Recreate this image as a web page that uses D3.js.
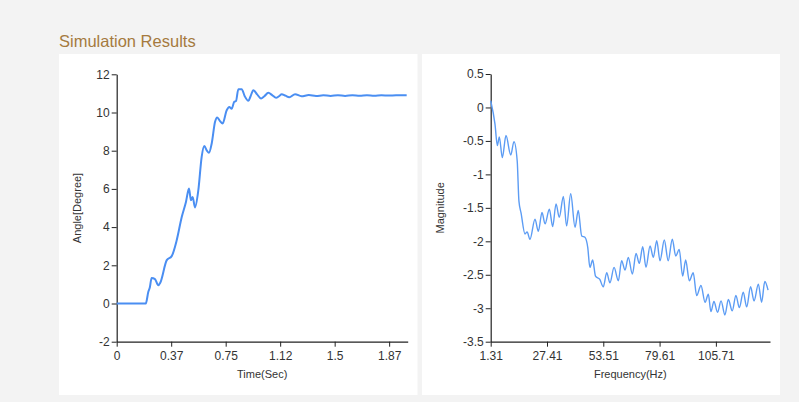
<!DOCTYPE html>
<html>
<head>
<meta charset="utf-8">
<script src="https://cdn.jsdelivr.net/npm/d3@7"></script>
<style>
  html, body { margin: 0; padding: 0; background: #f3f3f3; }
  svg { display: block; }
  .tick text { font-family: "Liberation Sans", Arial, sans-serif; font-size: 12px; fill: #333; }
  .axis path, .axis line { stroke: #222; }
</style>
</head>
<body>
<svg id="chart" width="799" height="402"></svg>
<script>
// Step response: time (s) and angle (degrees)
const timeSec = [0, 0.1, 0.2, 0.217, 0.228, 0.24, 0.263, 0.286, 0.30, 0.344, 0.378, 0.412, 0.447, 0.476,
  0.497, 0.51, 0.522, 0.538, 0.561, 0.584, 0.602, 0.62, 0.634, 0.653, 0.676, 0.691, 0.71, 0.728,
  0.756, 0.774, 0.79, 0.808, 0.82, 0.836, 0.859, 0.88, 0.905, 0.92, 0.939, 0.965, 0.992, 1.015,
  1.042, 1.07, 1.095, 1.115, 1.134, 1.16, 1.186, 1.226, 1.27, 1.32, 1.37, 1.42, 1.47, 1.52, 1.57,
  1.62, 1.67, 1.72, 1.77, 1.82, 1.87, 1.92, 1.993];
const angleDeg = [0, 0, 0, 0.6, 0.85, 1.34, 1.28, 0.96, 1.1, 2.27, 2.48, 3.3, 4.53, 5.32,
  6.02, 5.41, 5.58, 5.03, 5.93, 7.68, 8.24, 8.0, 7.89, 8.38, 9.51, 9.74, 9.55, 9.42,
  10.12, 10.29, 10.2, 10.56, 10.6, 11.22, 11.22, 10.85, 10.61, 10.85, 11.17, 10.95, 10.73, 10.85,
  11.03, 10.9, 10.77, 10.85, 10.96, 10.88, 10.8, 10.96, 10.85, 10.91, 10.86, 10.9, 10.87, 10.9, 10.87,
  10.9, 10.88, 10.9, 10.88, 10.9, 10.89, 10.9, 10.9];
const timeTicks = [0, 0.3745, 0.749, 1.1235, 1.498, 1.8725];
const timeTickLabels = ["0", "0.37", "0.75", "1.12", "1.5", "1.87"];
const angleTicks = [-2, 0, 2, 4, 6, 8, 10, 12];

// Spectrum: frequency (Hz) and magnitude
const freqHz = [1.31, 3.3, 4.4, 5.3, 6.7, 8.4, 10.6, 12.1, 13.6, 14.4, 15.4, 17.2, 18.2, 19.5, 21.85,
  23.4, 25.1, 26.5, 28.5, 30.05, 31.6, 33.1, 35.0, 36.5, 38.4, 40.4, 41.9, 43.5, 45.0, 46.3, 47.3,
  48.6, 49.9, 51.9, 53.5, 55.1, 56.6, 58.5, 60.5, 62.0, 63.6, 65.1, 67.0, 68.7, 70.2, 71.8, 73.3,
  75.2, 76.7, 78.3, 79.8, 81.8, 83.6, 85.5, 87.1, 88.7, 90.3, 91.7, 93.4, 95.2, 96.8, 98.8, 100.7,
  102.2, 103.4, 104.8, 106.5, 108.1, 109.9, 111.5, 113.3, 115.0, 116.6, 118.4, 120.0, 121.8, 123.4,
  125.4, 126.9, 128.4, 129.9];
const magnitude = [0.1, -0.25, -0.57, -0.44, -0.75, -0.42, -0.71, -0.51, -0.8, -1.4, -1.58, -1.89, -1.86, -1.97, -1.67,
  -1.85, -1.57, -1.74, -1.52, -1.78, -1.44, -1.64, -1.33, -1.77, -1.29, -1.79, -1.54, -1.92, -1.94, -2.09, -2.39,
  -2.28, -2.52, -2.57, -2.68, -2.47, -2.62, -2.39, -2.59, -2.29, -2.43, -2.24, -2.49, -2.18, -2.33, -2.08, -2.39,
  -2.07, -2.24, -1.99, -2.29, -1.98, -2.29, -1.97, -2.22, -2.12, -2.52, -2.28, -2.59, -2.47, -2.81, -2.66, -2.91,
  -2.79, -3.05, -2.9, -3.06, -2.89, -3.1, -2.87, -3.04, -2.81, -2.99, -2.76, -2.98, -2.68, -2.89,
  -2.64, -2.91, -2.6, -2.73];
const freqTicks = [1.31, 27.41, 53.51, 79.61, 105.71];
const freqTickLabels = ["1.31", "27.41", "53.51", "79.61", "105.71"];
const magTicks = [-3.5, -3, -2.5, -2, -1.5, -1, -0.5, 0, 0.5];

const svg = d3.select("#chart");
const font = '"Liberation Sans", Arial, sans-serif';

// Section title
svg.append("text")
  .attr("x", 59).attr("y", 46.5)
  .attr("font-family", font).attr("font-size", 16.5)
  .attr("fill", "#a57a3e")
  .text("Simulation Results");

// White card behind each plot
svg.append("rect").attr("x", 59).attr("y", 54).attr("width", 358.5).attr("height", 341).attr("fill", "#fff");
svg.append("rect").attr("x", 422).attr("y", 54).attr("width", 358).attr("height", 341).attr("fill", "#fff");

function panel(opts) {
  const g = svg.append("g");
  const x = d3.scaleLinear().domain(opts.xDomain).range(opts.xRange);
  const y = d3.scaleLinear().domain(opts.yDomain).range(opts.yRange);

  g.append("g").attr("class", "axis")
    .attr("transform", `translate(0,${opts.yRange[0]})`)
    .call(d3.axisBottom(x).tickValues(opts.xTicks)
      .tickFormat((d, i) => opts.xLabels[i])
      .tickSize(5).tickSizeOuter(0).tickPadding(5));

  // plain hyphen-minus for negative labels
  g.append("g").attr("class", "axis")
    .attr("transform", `translate(${opts.xRange[0]},0)`)
    .call(d3.axisLeft(y).tickValues(opts.yTicks)
      .tickFormat(d => String(d))
      .tickSize(5).tickSizeOuter(0).tickPadding(2));

  g.selectAll(".axis path").attr("stroke-width", 1.2);

  const line = d3.line()
    .x((d, i) => x(opts.xs[i]))
    .y(d => y(d))
    .curve(d3.curveMonotoneX);

  g.append("path")
    .datum(opts.ys)
    .attr("fill", "none")
    .attr("stroke", opts.color)
    .attr("stroke-width", opts.width)
    .attr("stroke-linejoin", "round")
    .attr("d", line);

  g.append("text")
    .attr("x", (opts.xRange[0] + opts.xRange[1]) / 2).attr("y", 378)
    .attr("text-anchor", "middle")
    .attr("font-family", font).attr("font-size", 11).attr("fill", "#333")
    .text(opts.xTitle);

  g.append("text")
    .attr("transform", `translate(${opts.yTitleX},${(opts.yRange[0] + opts.yRange[1]) / 2}) rotate(-90)`)
    .attr("text-anchor", "middle")
    .attr("font-family", font).attr("font-size", 11).attr("fill", "#333")
    .text(opts.yTitle);
}

panel({
  xDomain: [0, 2.0], xRange: [116.7, 407.7],
  yDomain: [-2, 12], yRange: [341.7, 74.3],
  xTicks: timeTicks, xLabels: timeTickLabels, yTicks: angleTicks,
  xs: timeSec, ys: angleDeg,
  color: "#4a8ef2", width: 2,
  xTitle: "Time(Sec)", yTitle: "Angle[Degree]", yTitleX: 80.5
});

panel({
  xDomain: [1.31, 130.8], xRange: [490.7, 770],
  yDomain: [-3.5, 0.5], yRange: [341.7, 74],
  xTicks: freqTicks, xLabels: freqTickLabels, yTicks: magTicks,
  xs: freqHz, ys: magnitude,
  color: "#5c9cf4", width: 1.4,
  xTitle: "Frequency(Hz)", yTitle: "Magnitude", yTitleX: 443.5
});
</script>
</body>
</html>
